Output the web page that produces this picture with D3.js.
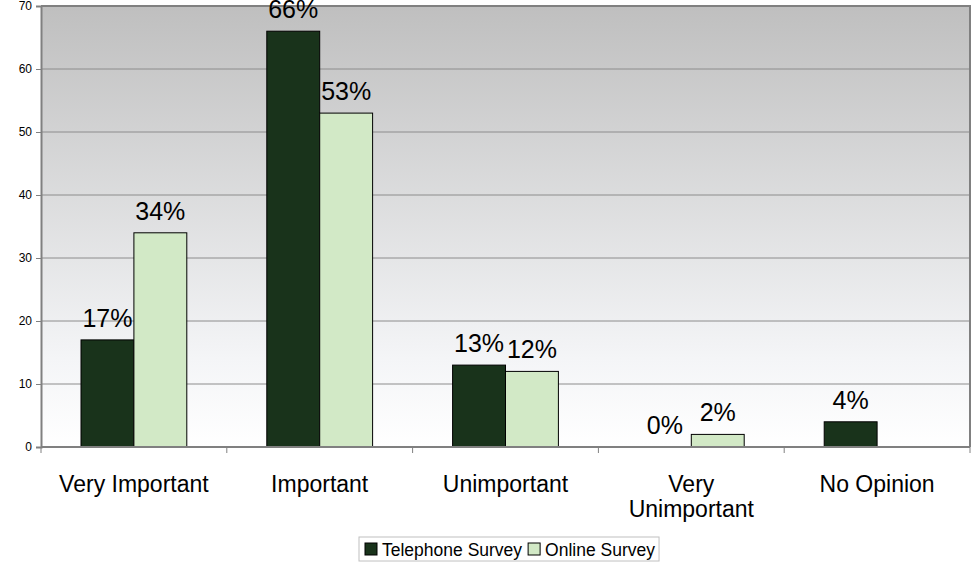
<!DOCTYPE html>
<html>
<head>
<meta charset="utf-8">
<script src="https://cdn.jsdelivr.net/npm/d3@7"></script>
<style>
  body { margin: 0; background: #fff; }
  text { font-family: "Liberation Sans", Arial, sans-serif; }
</style>
</head>
<body>
<script>
// chart data
var categories = [["Very Important"], ["Important"], ["Unimportant"], ["Very", "Unimportant"], ["No Opinion"]];
var seriesNames = ["Telephone Survey", "Online Survey"];
var telephone = [17, 66, 13, 0, 4];
var online = [34, 53, 12, 2, null];
var yTicks = [0, 10, 20, 30, 40, 50, 60, 70];
var colors = ["#19331b", "#d2e9c6"];

var margin = {top: 6, right: 1, bottom: 115, left: 41},
    width = 971 - margin.left - margin.right,
    height = 562 - margin.top - margin.bottom;

var svg = d3.select("body").append("svg")
    .attr("width", 971)
    .attr("height", 562);

var defs = svg.append("defs");
var grad = defs.append("linearGradient")
    .attr("id", "bg").attr("x1", 0).attr("y1", 0).attr("x2", 0).attr("y2", 1);
grad.append("stop").attr("offset", "0%").attr("stop-color", "#bfbfbf");
grad.append("stop").attr("offset", "80%").attr("stop-color", "#f4f5f7");
grad.append("stop").attr("offset", "100%").attr("stop-color", "#ffffff");

var g = svg.append("g")
    .attr("transform", "translate(" + margin.left + "," + margin.top + ")");

var idx = d3.range(categories.length);
var x0 = d3.scaleBand().domain(idx).range([0, width]);
var x1 = d3.scaleBand().domain([0, 1]).range([40, x0.bandwidth() - 40]);
var y = d3.scaleLinear().domain([0, 70]).range([height, 0]);

// background
g.append("rect")
    .attr("width", width).attr("height", height)
    .attr("fill", "url(#bg)");

// gridlines
g.selectAll(".grid")
    .data(yTicks.slice(1))
  .enter().append("line")
    .attr("x1", 0).attr("x2", width)
    .attr("y1", function(d) { return y(d); })
    .attr("y2", function(d) { return y(d); })
    .attr("stroke", "#8c8c8c").attr("stroke-width", 1);

// plot border top/right
g.append("path")
    .attr("d", "M0," + y(70) + "H" + width + "V" + height)
    .attr("fill", "none").attr("stroke", "#808080").attr("stroke-width", 2);

// bars
var series = [telephone, online];
series.forEach(function(vals, s) {
    g.selectAll(".bar" + s)
        .data(idx.filter(function(i) { return vals[i] !== null && vals[i] > 0; }))
      .enter().append("rect")
        .attr("x", function(i) { return x0(i) + x1(s); })
        .attr("y", function(i) { return y(vals[i]); })
        .attr("width", x1.bandwidth())
        .attr("height", function(i) { return height - y(vals[i]); })
        .attr("fill", colors[s])
        .attr("stroke", "#000").attr("stroke-width", 1);

    // value labels (the 66% one is clipped at the top, as in the original)
    g.selectAll(".lbl" + s)
        .data(idx.filter(function(i) { return vals[i] !== null; }))
      .enter().append("text")
        .attr("x", function(i) { return x0(i) + x1(s) + x1.bandwidth() / 2; })
        .attr("y", function(i) { return y(vals[i]) - 13; })
        .attr("text-anchor", "middle")
        .style("font-size", "25px")
        .attr("fill", "#000")
        .text(function(i) { return vals[i] + "%"; });
});

// Y axis
var yAxis = g.append("g")
    .call(d3.axisLeft(y).tickValues(yTicks).tickSize(5).tickPadding(4));
yAxis.select(".domain").attr("stroke", "#808080").attr("stroke-width", 2);
yAxis.selectAll(".tick line").attr("stroke", "#808080");
yAxis.selectAll(".tick text").style("font-size", "12px").attr("fill", "#000");

// X axis
var xAxisG = g.append("g").attr("transform", "translate(0," + height + ")");
xAxisG.append("line")
    .attr("x1", 0).attr("x2", width)
    .attr("stroke", "#808080").attr("stroke-width", 2);
xAxisG.selectAll(".xt")
    .data(d3.range(categories.length + 1))
  .enter().append("line")
    .attr("x1", function(i) { return i * x0.step(); })
    .attr("x2", function(i) { return i * x0.step(); })
    .attr("y1", 0).attr("y2", 6)
    .attr("stroke", "#808080");

var catLabels = xAxisG.selectAll(".cat")
    .data(idx)
  .enter().append("text")
    .attr("text-anchor", "middle")
    .attr("y", 45)
    .style("font-size", "23px")
    .attr("fill", "#000");
catLabels.selectAll("tspan")
    .data(function(i) { return categories[i].map(function(t) { return {i: i, t: t}; }); })
  .enter().append("tspan")
    .attr("x", function(d) { return x0(d.i) + x0.bandwidth() / 2; })
    .attr("dy", function(d, k) { return k === 0 ? 0 : 25; })
    .text(function(d) { return d.t; });

// legend
var legend = svg.append("g").attr("transform", "translate(359,537)");
var box = legend.append("rect")
    .attr("height", 24)
    .attr("fill", "#fff").attr("stroke", "#c0c0c0");
var cx = 6;
seriesNames.forEach(function(name, s) {
    var it = legend.append("g").attr("transform", "translate(" + cx + ",0)");
    it.append("rect")
        .attr("x", 0).attr("y", 6).attr("width", 12).attr("height", 12)
        .attr("fill", colors[s]).attr("stroke", "#000");
    var t = it.append("text")
        .attr("x", 17).attr("y", 19)
        .style("font-size", "17.5px")
        .attr("fill", "#000")
        .text(name);
    cx += 17 + t.node().getComputedTextLength() + 6;
});
box.attr("width", cx - 2);
</script>
</body>
</html>
